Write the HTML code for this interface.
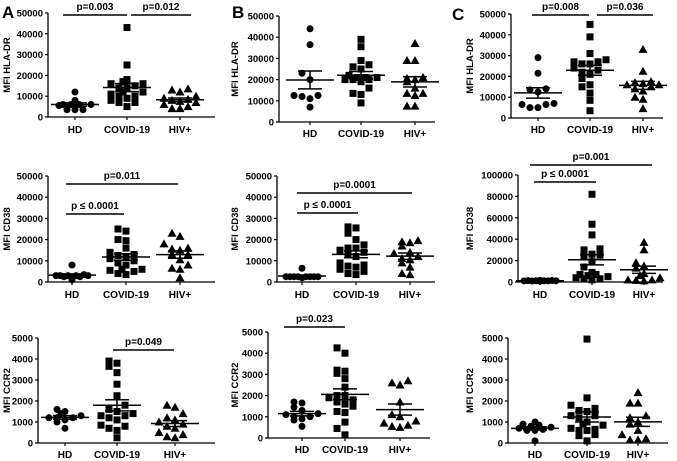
<!DOCTYPE html>
<html><head><meta charset="utf-8"><style>
html,body{margin:0;padding:0;background:#fff;}
svg{display:block;font-family:"Liberation Sans",Arial,sans-serif;font-weight:bold;}
</style></head><body>
<svg id="fig" width="677" height="461" viewBox="0 0 677 461">
<text x="2" y="18" font-size="17">A</text>
<text x="232" y="18" font-size="17">B</text>
<text x="452" y="20" font-size="17">C</text>
</svg>
<script>
const groups = ["HD","COVID-19","HIV+"];
const a1HD=[12000,8000,6000,6000,6000,6000,5500,3500,3500,3500];
const a1COV=[43000,25000,18000,17000,16000,16000,15000,14000,14000,12000,12000,11000,10000,10000,9000,8000,7000,7000,5000];
const a1HIV=[13500,13000,12000,10000,9000,8500,8000,7500,7000,6000,4000,4000,5000];
const b1HD=[44000,36500,23000,20000,12500,12000,12500,7000,11000];
const b1COV=[39000,35500,29000,27000,26000,25000,22000,21000,21000,21000,20000,20000,20000,19000,16000,13500,13000,9000];
const b1HIV=[37000,29000,29000,21000,20500,20000,19000,16000,13500,13500,12500,7500,7500];
const c1HD=[29000,21500,14000,13500,12500,7000,6500,5000,5000,6500];
const c1COV=[45000,39000,31000,27000,26000,24000,23000,22000,21000,19000,28000,27000,16000,15000,12000,8500,3500,26000];
const c1HIV=[33000,22500,17500,17000,16500,16000,16000,15000,14000,13000,10000,9000,4500];
const a2HD=[8000,3500,3000,3000,3000,3000,3000,2500,2500,1000];
const a2COV=[25000,24000,20000,19500,16000,14000,13000,12000,11000,10000,9000,8000,6000,6000,5500,5000,4000,3500,12500];
const a2HIV=[23000,21500,18000,16000,15500,15000,13000,13000,10500,8000,6500,6000,2000];
const b2HD=[6500,2500,2500,2500,2500,2500,2500,2500,2500,2000];
const b2COV=[26000,25500,23000,20000,17500,16000,16000,15000,14000,13000,12000,9000,8000,7500,7000,6000,5000,4000,3500];
const b2HIV=[19500,19000,18500,17000,14000,13500,12000,11000,10500,9000,7000,4000,3500];
const c2HD=[1500,1400,1300,1200,1200,1100,1000,1000,900,800];
const c2COV=[82000,54000,44000,31000,30000,26000,25000,24000,19000,14000,9000,7000,6000,5000,4000,3000,3000,2000,7000];
const c2HIV=[37000,30000,18000,15000,8000,6000,4000,2000,2000,1500,1000,13000];
const a3HD=[1600,1500,1400,1300,1200,1200,1100,1200,1000,700];
const a3COV=[3900,3800,3650,3350,2800,2250,1600,1500,1400,1300,1300,1200,1100,850,800,700,600,250,1800];
const a3HIV=[1800,1700,1400,1200,1100,1000,900,800,700,500,400,300,250];
const b3HD=[1700,1650,1450,1300,1150,1100,1000,1000,900,850,550];
const b3COV=[4250,4000,3200,3150,3050,2800,2400,2000,1900,1800,1700,1600,1500,1250,1200,750,450,150,2000];
const b3HIV=[2700,2600,2500,1700,1100,1000,800,700,600,550,500];
const c3HD=[1000,900,850,800,750,700,650,600,600,100];
const c3COV=[4950,2150,1800,1650,1550,1500,1300,1300,1000,900,850,700,650,600,600,400,350,100,1200];
const c3HIV=[2400,1900,1900,1300,1200,1000,900,600,400,200,150,150];
const ticks50k=[0,10000,20000,30000,40000,50000];
const ticks100k=[0,20000,40000,60000,80000,100000];
const ticks5k=[0,1000,2000,3000,4000,5000];

const NS="http://www.w3.org/2000/svg";
const svg=document.getElementById("fig");
function mk(tag,attrs,parent,text){const e=document.createElementNS(NS,tag);for(const k in attrs)e.setAttribute(k,attrs[k]);if(text!==undefined)e.textContent=text;(parent||svg).appendChild(e);return e;}

function panel(id,L,data,ticks,ylabel,pvals){
  const g=mk("g",{});
  
  
  const ymax=ticks[ticks.length-1];
  const y=v=>L.y0-(v/ymax)*(L.y0-L.yt);
  const ax=mk("path",{d:`M${L.ax},${L.yt}V${L.y0}H${L.xe}`,stroke:"#000","stroke-width":1.3,fill:"none"},g);
  
  
  ticks.forEach(t=>{
    mk("line",{x1:L.ax-3,x2:L.ax,y1:y(t),y2:y(t),stroke:"#000","stroke-width":1.2},g);
    const tl=mk("text",{x:L.ax-5,y:y(t)+3.5,"font-size":9.5,"text-anchor":"end"},g,String(t));
    
    
  });
  const yl=mk("text",{x:0,y:0,"font-size":9.5,"text-anchor":"middle",transform:`translate(${L.lx},${(L.y0+L.yt)/2}) rotate(-90)`},g,ylabel);
  
  
  const offs=[0,-8,8,-16,16,-4,4,-12,12];
  data.forEach((vals,gi)=>{
    const cx=L.gx[gi];
    mk("line",{x1:cx,x2:cx,y1:L.y0,y2:L.y0+3,stroke:"#000","stroke-width":1.2},g);
    const gl=mk("text",{x:cx,y:L.ly,"font-size":10,"text-anchor":"middle"},g,groups[gi]);
    
    
    const sorted=vals.map((v,i)=>[v,i]).sort((a,b)=>a[0]-b[0]);
    let lastY=-99,k=0;
    sorted.forEach(([v])=>{
      const py=y(v);
      if(Math.abs(py-lastY)<7){k++;}else{k=0;lastY=py;}
      const px=cx+offs[k%offs.length];
      let m;
      if(gi===0) m=mk("circle",{cx:px,cy:py,r:3.5,fill:"#000"},g);
      else if(gi===1) m=mk("rect",{x:px-3.5,y:py-3.5,width:7,height:7,fill:"#000"},g);
      else m=mk("path",{d:`M${px},${py-4.5}L${px+4.5},${py+3.5}L${px-4.5},${py+3.5}Z`,fill:"#000"},g);
      
      
    });
    const n=vals.length,mean=vals.reduce((a,b)=>a+b,0)/n;
    const sd=Math.sqrt(vals.reduce((a,b)=>a+(b-mean)**2,0)/(n-1)),sem=sd/Math.sqrt(n);
    const ml=mk("line",{x1:cx-24,x2:cx+24,y1:y(mean),y2:y(mean),stroke:"#000","stroke-width":1.5},g);
    
    
    const eb=mk("path",{d:`M${cx},${y(mean+sem)}V${y(mean-sem)}M${cx-12},${y(mean+sem)}H${cx+12}M${cx-12},${y(mean-sem)}H${cx+12}`,stroke:"#000","stroke-width":1.5,fill:"none"},g);
    
    
  });
  (pvals||[]).forEach(p=>{
    const b=mk("line",{x1:p.x1,x2:p.x2,y1:p.y,y2:p.y,stroke:"#000","stroke-width":1.6},g);
    
    
    const t=mk("text",{x:(p.x1+p.x2)/2,y:p.y-5,"font-size":10,"text-anchor":"middle"},g,p.t);
    
    
  });
}
panel("panel-a-hla-dr",{ax:48,y0:117,yt:13,xe:215,gx:[75,127,180],ly:133,lx:10},[a1HD,a1COV,a1HIV],ticks50k,"MFI HLA-DR",
  [{x1:63,x2:127,y:15,t:"p=0.003"},{x1:131,x2:191,y:15,t:"p=0.012"}]);
panel("panel-b-hla-dr",{ax:279,y0:122,yt:16,xe:435,gx:[310,361,415],ly:137,lx:238},[b1HD,b1COV,b1HIV],ticks50k,"MFI HLA-DR",[]);
panel("panel-c-hla-dr",{ax:511,y0:118,yt:14,xe:663,gx:[538,590,643],ly:133,lx:473},[c1HD,c1COV,c1HIV],ticks50k,"MFI HLA-DR",
  [{x1:532,x2:589,y:15,t:"p=0.008"},{x1:597,x2:653,y:15,t:"p=0.036"}]);
panel("panel-a-cd38",{ax:48,y0:282,yt:176,xe:215,gx:[72,126,180],ly:298,lx:10},[a2HD,a2COV,a2HIV],ticks50k,"MFI CD38",
  [{x1:66,x2:178,y:184,t:"p=0.011"},{x1:66,x2:124,y:214,t:"p ≤ 0.0001"}]);
panel("panel-b-cd38",{ax:277,y0:282,yt:176,xe:435,gx:[302,356,410],ly:298,lx:238},[b2HD,b2COV,b2HIV],ticks50k,"MFI CD38",
  [{x1:297,x2:412,y:193,t:"p=0.0001"},{x1:297,x2:358,y:213,t:"p ≤ 0.0001"}]);
panel("panel-c-cd38",{ax:518,y0:282,yt:175,xe:663,gx:[540,592,644],ly:298,lx:473},[c2HD,c2COV,c2HIV],ticks100k,"MFI CD38",
  [{x1:530,x2:652,y:165,t:"p=0.001"},{x1:534,x2:596,y:182,t:"p ≤ 0.0001"}]);
panel("panel-a-ccr2",{ax:38,y0:443,yt:338,xe:215,gx:[65,117,175],ly:458,lx:10},[a3HD,a3COV,a3HIV],ticks5k,"MFI CCR2",
  [{x1:113,x2:174,y:350,t:"p=0.049"}]);
panel("panel-b-ccr2",{ax:268,y0:438,yt:332,xe:430,gx:[302,345,400],ly:453,lx:238},[b3HD,b3COV,b3HIV],ticks5k,"MFI CCR2",
  [{x1:284,x2:345,y:327,t:"p=0.023"}]);
panel("panel-c-ccr2",{ax:508,y0:443,yt:338,xe:668,gx:[535,587,638],ly:458,lx:473},[c3HD,c3COV,c3HIV],ticks5k,"MFI CCR2",[]);
</script>
</body></html>
